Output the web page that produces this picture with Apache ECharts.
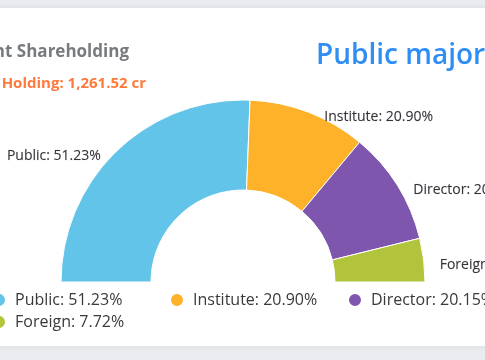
<!DOCTYPE html>
<html>
<head>
<meta charset="utf-8">
<script src="https://cdn.jsdelivr.net/npm/echarts@6/dist/echarts.min.js"></script>
<style>
html,body{margin:0;padding:0;background:#e9ebef;}
#main{width:485px;height:360px;}
</style>
</head>
<body>
<div id="main"></div>
<script>
const categories = ['Public', 'Institute', 'Director', 'Foreign'];
const shares = [51.23, 20.90, 20.15, 7.72];
const colors = ['#63c4e9', '#fdb229', '#7e56ad', '#b2c43b'];
const titleText = 'Current Shareholding';
const holdingText = 'Total Holding: 1,261.52 cr';
const headlineText = 'Public majority';

const chart = echarts.init(document.getElementById('main'), null, {renderer: 'canvas'});
const labelOf = {};
categories.forEach((c, i) => { labelOf[c] = c + ': ' + shares[i].toFixed(2) + '%'; });

chart.setOption({
  backgroundColor: 'transparent',
  animation: false,
  graphic: [
    {type: 'rect', shape: {x: 0, y: 8, width: 485, height: 338}, style: {fill: '#ffffff', shadowBlur: 6, shadowColor: 'rgba(0,0,0,0.08)'}, z: -10},
    {type: 'text', style: {x: 129, y: 52, text: titleText, align: 'right', verticalAlign: 'middle', fill: '#777b80', font: 'bold 17px "Open Sans"'}},
    {type: 'text', style: {x: 146, y: 84, text: holdingText, align: 'right', verticalAlign: 'middle', fill: '#ff7a3d', font: 'bold 15px "Open Sans"'}},
    {type: 'text', style: {x: 316, y: 56, text: headlineText, align: 'left', verticalAlign: 'middle', fill: '#2f8ef5', font: '600 28px "Open Sans"'}}
  ],
  legend: {
    left: -9,
    top: 292,
    width: 545,
    orient: 'horizontal',
    icon: 'circle',
    itemWidth: 14,
    itemHeight: 14,
    itemGap: 6,
    formatter: name => labelOf[name],
    textStyle: {fontFamily: 'Open Sans', fontSize: 16, fontWeight: 500, color: '#3a3a3a', width: 148, height: 14, padding: [0, 0, 0, 4], lineHeight: 14},
    padding: 0,
    data: categories
  },
  series: [{
    type: 'pie',
    center: [243, 282],
    radius: [92, 182],
    startAngle: 180,
    endAngle: 0,
    clockwise: true,
    avoidLabelOverlap: false,
    itemStyle: {borderColor: '#ffffff', borderWidth: 1},
    label: {
      show: true,
      position: 'outside',
      formatter: p => p.name + ': ' + p.value.toFixed(2) + '%',
      fontFamily: 'Open Sans',
      fontSize: 14,
      fontWeight: 500,
      color: '#333333',
      textBorderColor: 'rgba(60,60,120,0.2)',
      textBorderWidth: 0.5
    },
    labelLine: {show: false, length: 0, length2: 11},
    labelLayout: {dy: 5},
    data: categories.map((c, i) => ({name: c, value: shares[i], itemStyle: {color: colors[i]}}))
  }]
});
</script>
</body>
</html>
